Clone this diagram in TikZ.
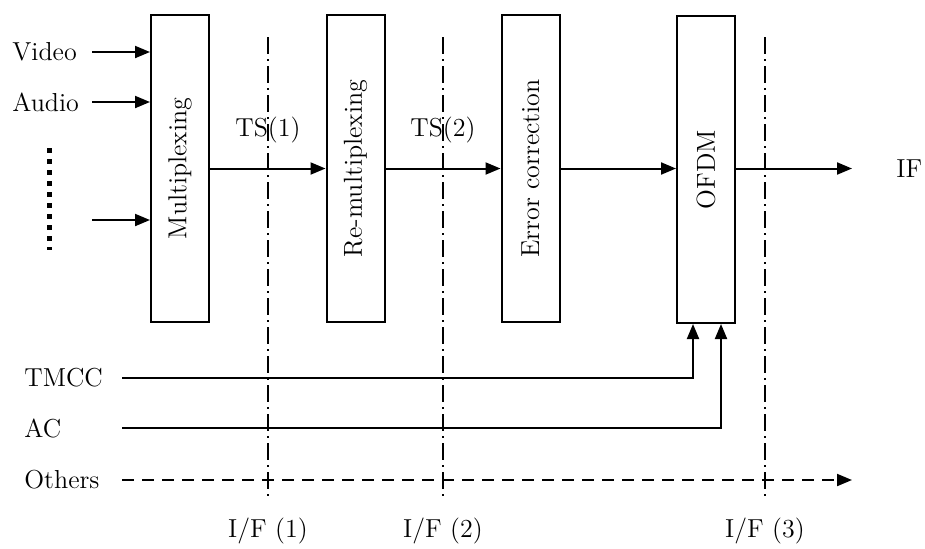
\documentclass[tikz,border=0pt]{standalone}
\usetikzlibrary{arrows.meta}
\begin{document}
\begin{tikzpicture}[x=0.5pt,y=-0.5pt,
  font=\fontsize{13}{15}\selectfont,
  box/.style={draw, line width=1pt, minimum width=29pt, minimum height=153.5pt, inner sep=0pt},
  boxlbl/.style={rotate=90, inner sep=0pt},
  arr/.style={line width=1pt, -{Triangle[length=7.5pt,width=6pt]}},
  ifline/.style={line width=0.75pt, dash pattern=on 8.5pt off 2.5pt on 1pt off 2.5pt},
  dotcol/.style={line width=2.5pt, dash pattern=on 2.5pt off 3pt},
  lbl/.style={inner sep=0pt}]
\useasboundingbox (0,0) rectangle (925,548);

% boxes
\node[box] (mux) at (180,168.5) {};
\node[box] (remux) at (355.5,168.5) {};
\node[box] (ecc) at (530.5,168.5) {};
\node[box] (ofdm) at (706,169.5) {};
\node[boxlbl] (muxl) at (mux.center) {Multiplexing};
\node[boxlbl] (remuxl) at (remux.center) {Re-multiplexing};
\node[boxlbl] (eccl) at (ecc.center) {Error correction};
\node[boxlbl] (ofdml) at (ofdm.center) {OFDM};

% interface lines
\coordinate (d1t) at (268,37);  \coordinate (d1b) at (268,497);
\coordinate (d2t) at (443,37);  \coordinate (d2b) at (443,497);
\coordinate (d3t) at (765,37);  \coordinate (d3b) at (765,497);
\draw[ifline] (d1t) -- (d1b);
\draw[ifline] (d2t) -- (d2b);
\draw[ifline] (d3t) -- (d3b);
\node[lbl] (if1) at (268,531) {I/F (1)};
\node[lbl] (if2) at (443,531) {I/F (2)};
\node[lbl] (if3) at (765,531) {I/F (3)};

% TS labels
\node[lbl] (ts1) at (268,130) {TS(1)};
\node[lbl] (ts2) at (443,130) {TS(2)};

% inputs
\node[lbl, anchor=west] (video) at (12,52) {Video};
\node[lbl, anchor=west] (audio) at (12,102) {Audio};
\coordinate (vs) at (92,52);
\coordinate (as) at (92,102);
\coordinate (xs) at (92,220);
\draw[arr] (vs) -- (vs -| mux.west);
\draw[arr] (as) -- (as -| mux.west);
\draw[arr] (xs) -- (xs -| mux.west);
\coordinate (dt) at (49,148);
\coordinate (db) at (49,250);
\draw[dotcol] (dt) -- (db);

% main chain
\coordinate (ifend) at (852,168.5);
\draw[arr] (mux.east) -- (remux.west);
\draw[arr] (remux.east) -- (ecc.west);
\draw[arr] (ecc.east) -- (ecc.east -| ofdm.west);
\draw[arr] (ecc.east -| ofdm.east) -- (ifend);
\node[lbl, anchor=west] (iflbl) at (896,168.5) {IF};

% control inputs
\node[lbl, anchor=west] (tmcc) at (24,378) {TMCC};
\node[lbl, anchor=west] (ac) at (24,428) {AC};
\node[lbl, anchor=west] (others) at (24,480) {Others};
\coordinate (tms) at (122,378);
\coordinate (acs) at (122,428);
\coordinate (ots) at (122,480);
\coordinate (ote) at (852,480);
\coordinate (tmx) at (693,0);
\coordinate (acx) at (721,0);
\draw[arr] (tms) -| (tmx |- ofdm.south);
\draw[arr] (acs) -| (acx |- ofdm.south);
\draw[arr, dash pattern=on 6pt off 4pt] (ots) -- (ote);
\end{tikzpicture}
\end{document}
